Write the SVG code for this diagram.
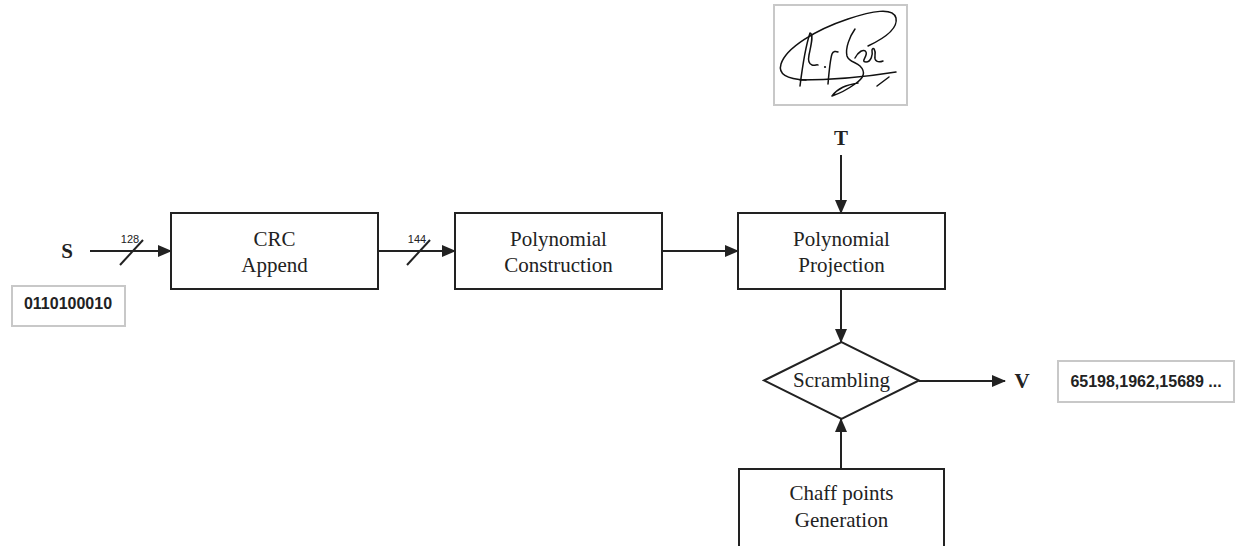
<svg xmlns="http://www.w3.org/2000/svg" width="1238" height="546" viewBox="0 0 1238 546">
<style>
.box{fill:#fff;stroke:#222;stroke-width:2}
.lbl{font-family:"Liberation Serif","Times New Roman",serif;font-size:21px;fill:#222;text-anchor:middle}
.big{font-family:"Liberation Serif","Times New Roman",serif;font-size:21px;font-weight:bold;fill:#222;text-anchor:middle}
.gbox{fill:#fff;stroke:#c8c8c8;stroke-width:2}
.val{font-family:"Liberation Sans",Arial,sans-serif;font-size:16px;font-weight:bold;fill:#222;text-anchor:middle}
.num{font-family:"Liberation Sans",Arial,sans-serif;font-size:11px;fill:#222;text-anchor:middle}
.ln{stroke:#222;stroke-width:2;fill:none}
.sig{stroke:#111;stroke-width:1.5;fill:none;stroke-linecap:round;stroke-linejoin:round}
</style>
<defs>
<marker id="ah" markerWidth="14" markerHeight="12" refX="13" refY="6" orient="auto" markerUnits="userSpaceOnUse">
<path d="M0,0 L14,6 L0,12 Z" fill="#222"/>
</marker>
</defs>
<rect width="1238" height="546" fill="#fff"/>

<g id="signature">
<rect x="774" y="5" width="133" height="100" class="gbox" stroke-width="1.5"/>
<path class="sig" d="M806 80 C 786 79, 778 74, 781 64 C 786 48, 815 30, 848 19 C 872 11, 893 7, 896 18 C 898 28, 885 38, 868 46"/>
<path class="sig" d="M800 80 C 830 80, 865 77, 896 72"/>
<path class="sig" d="M800 86 C 802 70, 805 48, 810 33 C 814 34, 811 45, 809 55 C 808 60, 809 64, 812 65 C 815 66, 817 64, 818 65"/>
<circle cx="825" cy="67" r="1.1" fill="#111"/>
<path class="sig" d="M828 84 C 829 72, 830 60, 832 54 C 833 51, 836 51, 838 52"/>
<path class="sig" d="M855 29 C 850 36, 845 48, 847 56 C 849 62, 856 62, 860 66 C 866 72, 864 78, 855 84 C 848 89, 838 94, 832 96 C 838 88, 846 85, 858 83"/>
<path class="sig" d="M855 58 C 858 52, 864 48, 866 52 C 868 56, 860 62, 866 62 C 871 62, 873 55, 872 50 C 873 46, 876 50, 875 56 C 874 61, 878 63, 883 61"/>
<path class="sig" d="M877 86 C 881 83, 885 80, 889 77"/>
</g>

<g id="connectors">
<line class="ln" x1="90" y1="251" x2="171" y2="251" marker-end="url(#ah)"/>
<line class="ln" x1="120" y1="265" x2="143" y2="240"/>
<text class="num" x="130" y="243">128</text>
<line class="ln" x1="378" y1="251" x2="455" y2="251" marker-end="url(#ah)"/>
<line class="ln" x1="407" y1="265" x2="430" y2="240"/>
<text class="num" x="417" y="243">144</text>
<line class="ln" x1="662" y1="251" x2="738" y2="251" marker-end="url(#ah)"/>
<line class="ln" x1="841" y1="155" x2="841" y2="213" marker-end="url(#ah)"/>
<line class="ln" x1="841" y1="289" x2="841" y2="342" marker-end="url(#ah)"/>
<line class="ln" x1="919" y1="381" x2="1005" y2="381" marker-end="url(#ah)"/>
<line class="ln" x1="841" y1="469" x2="841" y2="419" marker-end="url(#ah)"/>
</g>

<g id="S"><text class="big" x="67" y="258">S</text></g>
<g id="input-bits">
<rect x="12" y="286" width="113" height="40" class="gbox"/>
<text class="val" x="68" y="309">0110100010</text>
</g>

<g id="crc">
<rect x="171" y="213" width="207" height="76" class="box"/>
<text class="lbl" x="274.5" y="246">CRC</text>
<text class="lbl" x="274.5" y="272">Append</text>
</g>

<g id="polycon">
<rect x="455" y="213" width="207" height="76" class="box"/>
<text class="lbl" x="558.5" y="246">Polynomial</text>
<text class="lbl" x="558.5" y="272">Construction</text>
</g>

<g id="T"><text class="big" x="841" y="145">T</text></g>

<g id="polyproj">
<rect x="738" y="213" width="207" height="76" class="box"/>
<text class="lbl" x="841.5" y="246">Polynomial</text>
<text class="lbl" x="841.5" y="272">Projection</text>
</g>

<g id="scrambling">
<polygon points="764,380.5 841.5,342 919,380.5 841.5,419" class="box"/>
<text class="lbl" x="841.5" y="387">Scrambling</text>
</g>

<g id="V"><text class="big" x="1022" y="388">V</text></g>
<g id="output-values">
<rect x="1058" y="361" width="176" height="41" class="gbox"/>
<text class="val" x="1146" y="387">65198,1962,15689 ...</text>
</g>

<g id="chaff">
<rect x="739" y="469" width="205" height="82" class="box"/>
<text class="lbl" x="841.5" y="500">Chaff points</text>
<text class="lbl" x="841.5" y="527">Generation</text>
</g>
</svg>
